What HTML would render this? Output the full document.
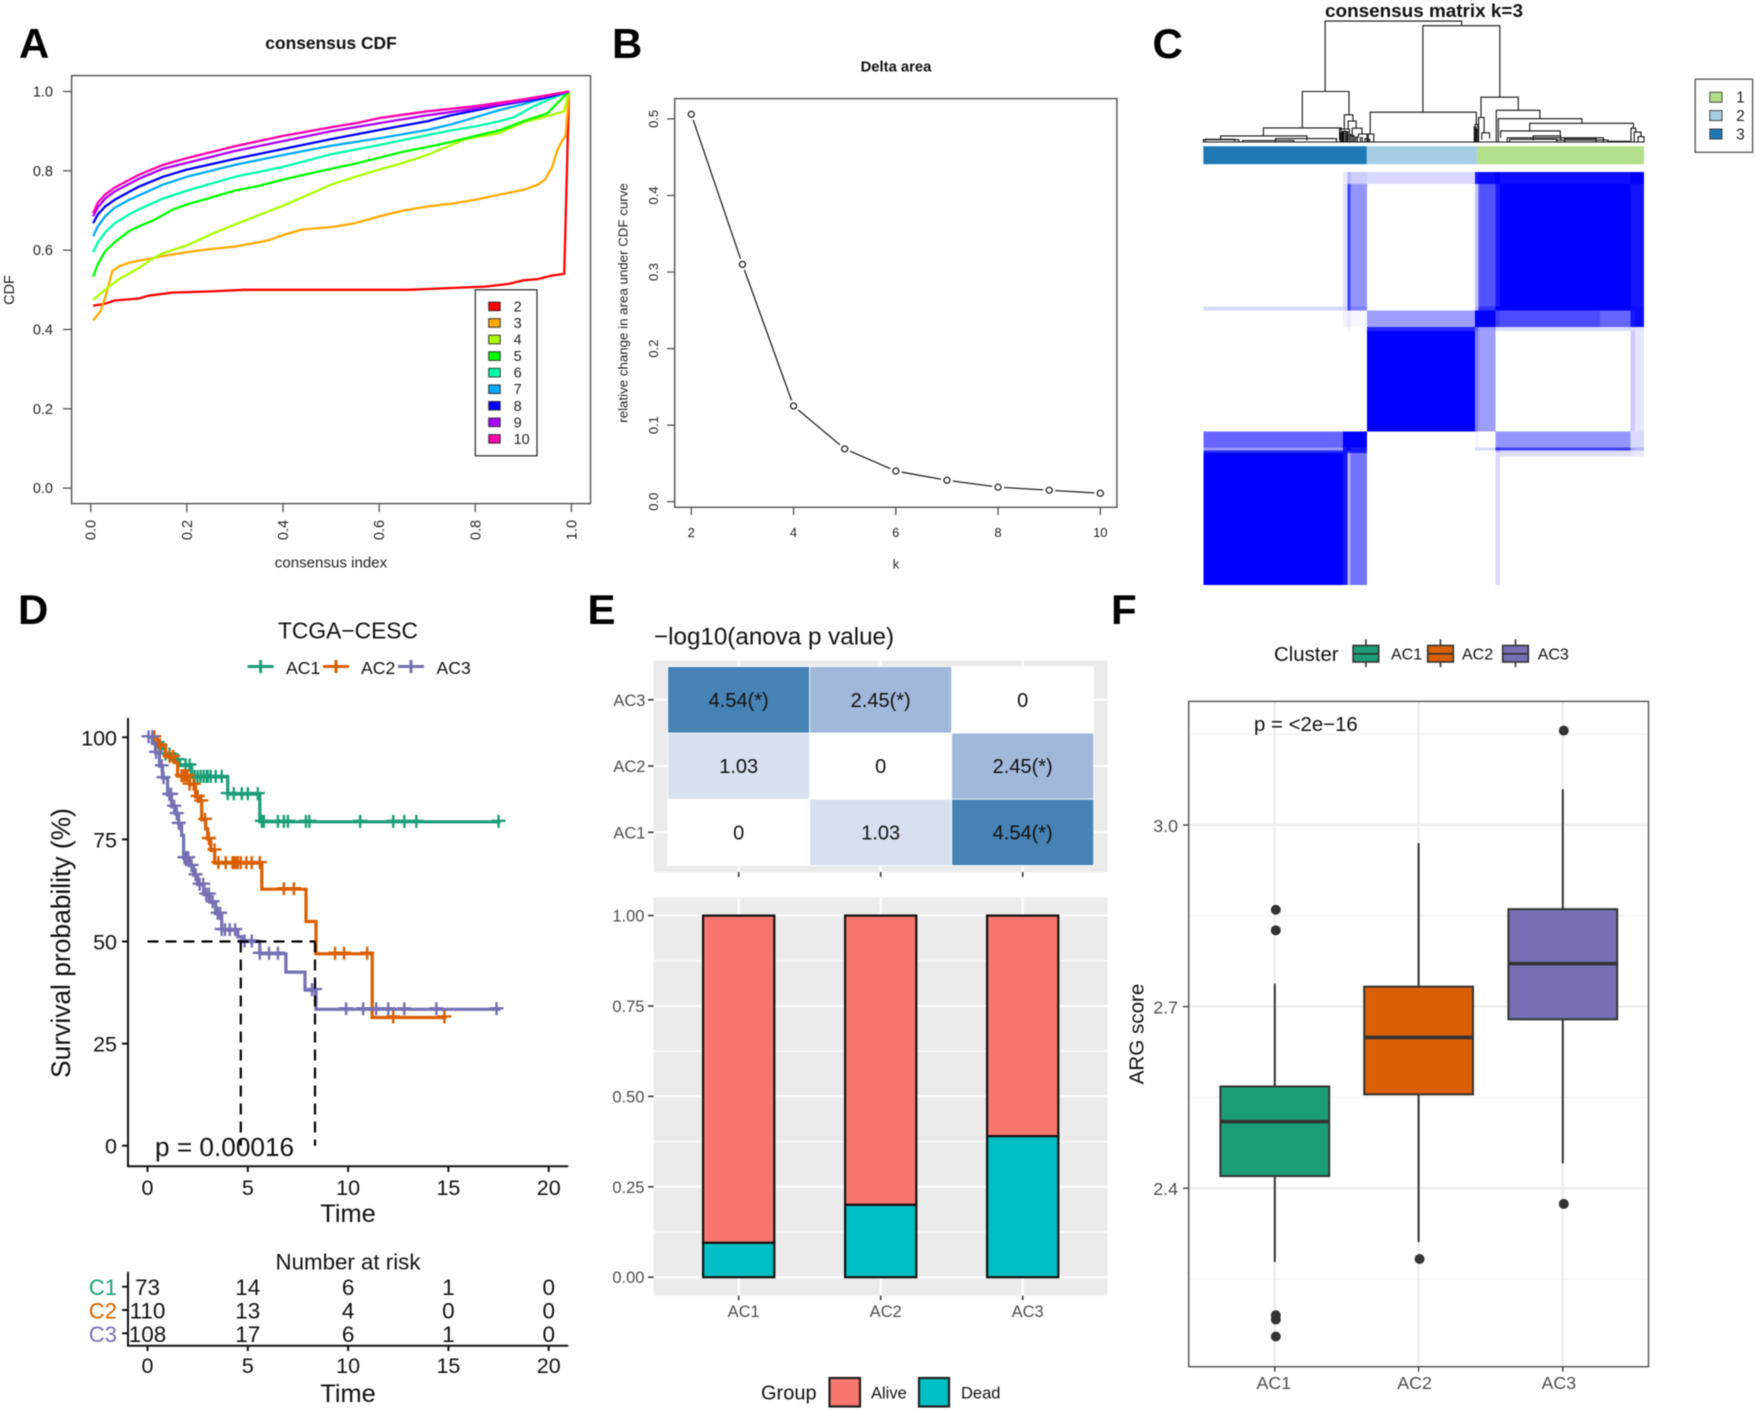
<!DOCTYPE html>
<html lang="en">
<head>
<meta charset="utf-8">
<title>Consensus clustering figure</title>
<style>
html,body{margin:0;padding:0;background:#fff;}
svg{display:block;font-family:"Liberation Sans",Arial,sans-serif;filter:blur(0.45px);}
text{dominant-baseline:central;}
.letter{font-size:42px;font-weight:bold;fill:#000;dominant-baseline:auto;}
</style>
</head>
<body>
<svg id="fig" xmlns="http://www.w3.org/2000/svg" width="1756" height="1411" viewBox="0 0 1756 1411">
<rect x="0" y="0" width="1756" height="1411" fill="#fff"/>
<text class="letter" x="19" y="58">A</text>
<text class="letter" x="612" y="58">B</text>
<text class="letter" x="1152.5" y="58">C</text>
<text class="letter" x="18" y="624">D</text>
<text class="letter" x="587.5" y="624">E</text>
<text class="letter" x="1111" y="624">F</text>

<g id="panelA">
<text x="331" y="42" font-size="17.4" font-weight="bold" text-anchor="middle" fill="#111">consensus CDF</text>
<text x="331" y="562" font-size="15.1" text-anchor="middle" fill="#222">consensus index</text>
<text transform="translate(9,290) rotate(-90)" font-size="14.5" text-anchor="middle" fill="#222">CDF</text>
</g>
<g id="panelB">
<text x="896" y="66.5" font-size="14.8" font-weight="bold" text-anchor="middle" fill="#111">Delta area</text>
<text x="896" y="563" font-size="13" text-anchor="middle" fill="#222">k</text>
<text transform="translate(622,303) rotate(-90)" font-size="13.3" text-anchor="middle" fill="#222">relative change in area under CDF curve</text>
</g>
<g id="panelC">
<text x="1424" y="10.5" font-size="18.9" font-weight="bold" text-anchor="middle" fill="#111">consensus matrix k=3</text>
</g>
<g id="panelD">
<text x="348" y="629.5" font-size="22.8" text-anchor="middle" fill="#111">TCGA−CESC</text>
<text transform="translate(60,943) rotate(-90)" font-size="26.4" text-anchor="middle" fill="#111">Survival probability (%)</text>
<text x="348" y="1213" font-size="25.4" text-anchor="middle" fill="#111">Time</text>
<text x="155" y="1146" font-size="26.2" fill="#111">p = 0.00016</text>
<text x="348" y="1261" font-size="22.3" text-anchor="middle" fill="#111">Number at risk</text>
<text x="348" y="1393" font-size="25.4" text-anchor="middle" fill="#111">Time</text>
</g>
<g id="panelE">
<text x="654" y="636" font-size="24.2" fill="#111">−log10(anova p value)</text>
<text x="761" y="1392.5" font-size="20" fill="#111">Group</text>
</g>
<g id="panelF">
<text x="1274" y="654" font-size="20.4" fill="#111">Cluster</text>
<text transform="translate(1136,1034) rotate(-90)" font-size="20.6" text-anchor="middle" fill="#111">ARG score</text>
</g>
</svg>

<script>
/* ---------- Panel A data ---------- */
const cdfTicks = [0, 0.2, 0.4, 0.6, 0.8, 1.0];
const cdfTickLabels = ["0.0", "0.2", "0.4", "0.6", "0.8", "1.0"];
const cdfK = ["2", "3", "4", "5", "6", "7", "8", "9", "10"];
const cdfColors = ["#ff0000", "#ffaa00", "#aaff00", "#00ff00", "#00ffaa", "#00aaff", "#0000ff", "#aa00ff", "#ff00aa"];
const cdfX2 = [.005,.03,.05,.1,.12,.17,.25,.32,.4,.5,.6,.66,.72,.8,.82,.87,.9,.93,.96,.985,.995];
const cdfY2 = [.46,.465,.473,.478,.485,.493,.496,.5,.5,.5,.5,.5,.503,.507,.508,.515,.524,.527,.536,.54,1];
const cdfX3 = [.005,.02,.03,.045,.06,.08,.1,.15,.2,.25,.3,.35,.37,.4,.44,.5,.55,.6,.65,.7,.75,.8,.85,.9,.93,.945,.96,.97,.98,.988,.995];
const cdfY3 = [.423,.445,.48,.547,.56,.568,.573,.585,.595,.603,.609,.62,.625,.638,.652,.658,.668,.685,.7,.71,.717,.727,.74,.752,.765,.778,.81,.85,.875,.888,1];
const cdfX4 = [.005,.02,.04,.06,.1,.13,.15,.2,.25,.3,.4,.5,.55,.6,.65,.7,.75,.78,.85,.9,.95,.985,.995];
const cdfY4 = [.475,.49,.51,.528,.555,.58,.592,.612,.64,.665,.712,.765,.785,.803,.82,.84,.865,.88,.895,.922,.938,.95,1];
const cdfX5 = [.005,.015,.03,.05,.08,.1,.13,.17,.2,.3,.35,.4,.5,.55,.6,.65,.7,.75,.8,.85,.9,.95,.97,.995];
const cdfY5 = [.533,.565,.597,.62,.648,.66,.675,.702,.715,.75,.762,.778,.805,.818,.833,.848,.86,.873,.888,.902,.925,.945,.97,1];
const cdfX6 = [.005,.015,.03,.05,.08,.1,.15,.2,.3,.4,.5,.6,.7,.75,.8,.85,.88,.92,.95,.995];
const cdfY6 = [.595,.62,.645,.668,.69,.703,.73,.75,.785,.81,.842,.865,.89,.902,.912,.925,.935,.962,.978,1];
const cdfX7 = [.005,.015,.03,.05,.08,.1,.15,.2,.3,.4,.5,.6,.7,.75,.8,.85,.9,.95,.995];
const cdfY7 = [.635,.66,.685,.707,.727,.738,.765,.785,.815,.84,.863,.882,.903,.917,.935,.953,.968,.985,1];
const cdfX8 = [.005,.015,.03,.05,.08,.1,.15,.2,.3,.4,.5,.6,.7,.75,.8,.85,.9,.95,.995];
const cdfY8 = [.668,.69,.71,.727,.747,.76,.785,.803,.83,.855,.88,.903,.925,.94,.952,.965,.975,.985,1];
const cdfX9 = [.005,.015,.03,.05,.08,.1,.15,.2,.3,.4,.5,.6,.7,.8,.9,.995];
const cdfY9 = [.685,.708,.73,.748,.767,.78,.805,.82,.85,.875,.9,.92,.94,.957,.977,1];
const cdfX10 = [.005,.015,.03,.05,.08,.1,.15,.2,.3,.4,.5,.56,.6,.7,.8,.9,.995];
const cdfY10 = [.693,.72,.74,.758,.777,.79,.815,.832,.862,.888,.91,.922,.933,.95,.963,.98,1];

/* ---------- Panel B data ---------- */
const deltaK = [2, 3, 4, 5, 6, 7, 8, 9, 10];
const deltaValues = [.506, .31, .125, .069, .04, .028, .019, .015, .011];
const deltaXTicks = [2, 4, 6, 8, 10];
const deltaYTicks = [0, .1, .2, .3, .4, .5];
const deltaYLabels = ["0.0", "0.1", "0.2", "0.3", "0.4", "0.5"];

/* ---------- Panel C data ---------- */
const clusterOrder = ["3", "2", "1"];
const clusterColors = ["#1f78b4", "#a6cee3", "#b2df8a"];
const clusterBreaks = [0, 108, 181, 291];
const matrixColEdges = [0, 92.4, 95.2, 97.3, 108.2, 179.4, 181.7, 193, 196, 262, 282.2, 285, 291];
const matrixRowEdges = [0, 90.3, 92.7, 94.5, 96.9, 107.9, 178.8, 181.6, 193.3, 196, 282.4, 291];
const matrixRow0 = [1, .9, .3, .55, 0, 0, 0, .15, 0, 0, 0, 0];
const matrixRow1 = [1, .9, .3, .55, 0, 0, 0, .15, .12, .12, .1, .08];
const matrixRow2 = [.85, .95, .8, .9, 0, 0, 0, .25, .15, .15, .12, .1];
const matrixRow3 = [.4, .9, 1, .9, 0, .15, .15, .8, .75, .75, .35, .3];
const matrixRow4 = [.6, 1, 1, 1, 0, .05, 0, .42, .42, .42, .15, .15];
const matrixRow5 = [0, 0, 0, 0, 1, .5, .38, 0, 0, 0, .2, .1];
const matrixRow6 = [0, 0, .05, 0, .85, .6, .4, .15, .15, .15, .15, .12];
const matrixRow7 = [0, .05, .1, .03, .38, 1, 1, .75, .7, .6, .9, .95];
const matrixRow8 = [.15, .2, .75, .5, 0, .3, .8, 1, 1, 1, .95, .95];
const matrixRow9 = [0, .12, .75, .42, 0, .25, .68, .9, 1, 1, .92, .92];
const matrixRow10 = [0, .08, .3, .2, .15, .9, .95, 1, .95, .95, 1, 1];
/* merges: left leaf, right leaf, height, left child height, right child height */
const dendroMerges = [
 [310,658,317,133,305],[559,755,305,79,118],[252,371,133,38,72],[153,351,38,17,10],[44,264,17,7,5],
 [0,90,7,2,2],[5,80,8,3,3],[100,230,5,1,1],[184,339,10,2,2],[359,381,72,35,56],[369,389,56,35,37],
 [379,404,37,15,22],[395,420,22,12,10],[347,372,35,5,5],[349,352,25,0,0],[353,356,28,0,0],[358,362,30,0,0],
 [365,368,28,0,0],[372,376,20,0,0],[380,384,18,0,0],[388,392,14,0,0],[400,405,12,0,0],[412,418,10,0,0],[420,424,8,0,0],
 [425,695,79,22,47],[417,434,22,2,2],[692,699,47,3,3],[690,694,40,0,0],[696,700,35,0,0],
 [707,802,118,65,84],[701,715,65,2,25],[709,729,25,7,10],[746,857,84,2,62],[751,964,62,2,50],
 [831,1095,50,30,37],[757,909,30,12,17],[774,1019,12,2,2],[840,910,17,5,5],[1089,1101,37,2,27],
 [1097,1114,27,2,15],[1107,1122,15,0,0],[780,900,8,1,1],[900,1030,6,1,1],[920,1000,10,2,2],[1030,1085,3,0,0],[0,1122,1,0,0]
];
const matrixLegendLabels = ["1", "2", "3"];
const matrixLegendColors = ["#b2df8a", "#a6cee3", "#1f78b4"];

/* ---------- Panel D data ---------- */
const kmGroups = ["AC1", "AC2", "AC3"];
const kmColors = ["#1b9e77", "#d95f02", "#7570b3"];
const kmTimeAC1 = [0,.3,.6,.9,1.2,1.6,2.2,4,5.6];
const kmSurvAC1 = [100,98.6,97.2,95.8,94.4,93.1,90.3,86.1,79.3];
const kmEndAC1 = 17.6;
const kmCensorAC1 = [.5,.9,1.1,1.5,1.9,2.1,2.35,2.5,2.65,2.8,2.95,3.0,3.15,3.4,3.7,4.0,4.3,4.7,5.0,5.5,5.7,5.8,6.5,6.8,7.0,7.9,8.07,10.6,12.25,12.8,13.4,17.5];
const kmTimeAC2 = [0,.5,.9,1.35,1.5,2.1,2.4,2.6,2.7,2.9,3,3.15,3.35,5.7,7.9,8.4,11.2];
const kmSurvAC2 = [100,98,95.2,93.8,90.5,88.4,85.4,84.3,79.8,77.6,75.1,72.3,69.2,62.8,54.9,47,31.4];
const kmEndAC2 = 14.9;
const kmCensorAC2 = [.34,.62,1.1,1.28,1.7,1.8,1.9,2,2.1,2.3,2.5,2.68,2.87,3.06,3.34,3.53,3.9,4.24,4.32,4.43,4.5,4.65,4.93,5.2,5.6,6.8,7.3,9.35,9.8,10.95,12.25,14.8];
const kmTimeAC3 = [0,.25,.4,.6,.75,1,1.2,1.4,1.55,1.7,1.8,2.1,2.3,2.5,2.8,3.1,3.4,3.7,4.5,4.7,5.6,6.9,7.85,8.4];
const kmSurvAC3 = [100,98.5,96.2,92.9,90,85.9,83,81.2,78.8,76,70.4,68.5,66.2,63.9,61.5,59.6,56.8,52.8,51.2,50,47,42.5,38.1,33.4];
const kmEndAC3 = 17.6;
const kmCensorAC3 = [.05,.24,.43,.71,.8,1.09,1.18,1.33,1.46,1.56,1.84,1.93,2.03,2.2,2.4,2.6,2.78,2.93,3.06,3.25,3.5,3.62,3.7,3.86,4.1,4.37,4.84,5.2,5.6,6.06,6.5,8.2,8.35,9.9,10.75,11.4,12,12.8,14.4,17.4];
const kmXTicks = [0, 5, 10, 15, 20];
const kmYTicks = [0, 25, 50, 75, 100];
const medianTimes = [4.65, 8.35];
const riskRows = ["C1", "C2", "C3"];
const riskC1 = [73, 14, 6, 1, 0];
const riskC2 = [110, 13, 4, 0, 0];
const riskC3 = [108, 17, 6, 1, 0];

/* ---------- Panel E data ---------- */
const anovaCats = ["AC1", "AC2", "AC3"];
const anovaAC1 = [0, 1.03, 4.54];
const anovaAC2 = [1.03, 0, 2.45];
const anovaAC3 = [4.54, 2.45, 0];
const anovaLabelsAC1 = ["0", "1.03", "4.54(*)"];
const anovaLabelsAC2 = ["1.03", "0", "2.45(*)"];
const anovaLabelsAC3 = ["4.54(*)", "2.45(*)", "0"];
const deadShare = [.095, .2, .39];
const shareTicks = [0, .25, .5, .75, 1];
const shareLabels = ["0.00", "0.25", "0.50", "0.75", "1.00"];
const shareMinor = [.125, .375, .625, .875];

/* ---------- Panel F data ---------- */
const boxCats = ["AC1", "AC2", "AC3"];
const boxFill = ["#1b9e77", "#d95f02", "#7570b3"];
const boxQ1 = [2.42, 2.555, 2.679];
const boxMedian = [2.51, 2.649, 2.771];
const boxQ3 = [2.568, 2.733, 2.861];
const boxWhiskerLow = [2.278, 2.311, 2.441];
const boxWhiskerHigh = [2.738, 2.97, 3.059];
const outliersAC1 = [2.86, 2.826, 2.19, 2.183, 2.155];
const outliersAC2 = [2.283];
const outliersAC3 = [3.156, 2.374];
const boxYTicks = [2.4, 2.7, 3.0];
const boxYLabels = ["2.4", "2.7", "3.0"];
const boxYMinor = [2.25, 2.55, 2.85, 3.15];

/* ---------- helpers ---------- */
const NS = "http://www.w3.org/2000/svg";
function mk(parent, tag, attrs) {
  const e = document.createElementNS(NS, tag);
  for (const k in attrs) e.setAttribute(k, attrs[k]);
  parent.appendChild(e);
  return e;
}
function tx(parent, str, attrs) {
  const e = mk(parent, "text", attrs);
  e.textContent = str;
  return e;
}
const A = document.getElementById("panelA");
const B = document.getElementById("panelB");
const C = document.getElementById("panelC");
const D = document.getElementById("panelD");
const E = document.getElementById("panelE");
const F = document.getElementById("panelF");

/* ---------- Panel A ---------- */
const ax = v => 90.7 + v * 480.7;
const ay = v => 488.1 - v * 396.6;
const aFrame = mk(A, "rect", {x:71.6, y:75.6, width:518.9, height:428, fill:"none", stroke:"#444", "stroke-width":1.3});


cdfTicks.forEach((t, i) => {
  const xt = mk(A, "line", {x1:ax(t), x2:ax(t), y1:503.6, y2:512, stroke:"#444", "stroke-width":1.2});
  
  
  const yt = mk(A, "line", {x1:63, x2:71.6, y1:ay(t), y2:ay(t), stroke:"#444", "stroke-width":1.2});
  
  
  const xl = tx(A, cdfTickLabels[i], {transform:`translate(${ax(t)},530) rotate(-90)`, "font-size":14.5, "text-anchor":"middle", fill:"#222"});
  
  
  const yl = tx(A, cdfTickLabels[i], {x:53, y:ay(t), "font-size":14.5, "text-anchor":"end", fill:"#222"});
  
  
});
const cdfXs = [cdfX2, cdfX3, cdfX4, cdfX5, cdfX6, cdfX7, cdfX8, cdfX9, cdfX10];
const cdfYs = [cdfY2, cdfY3, cdfY4, cdfY5, cdfY6, cdfY7, cdfY8, cdfY9, cdfY10];
cdfK.forEach((k, i) => {
  const pts = cdfXs[i].map((x, j) => ax(x).toFixed(1) + "," + ay(cdfYs[i][j]).toFixed(1)).join(" ");
  const pl = mk(A, "polyline", {points:pts, fill:"none", stroke:cdfColors[i], "stroke-width":2.3, "stroke-linejoin":"round"});
  
  
});
const aLegend = mk(A, "rect", {x:475.3, y:289.8, width:61.7, height:166, fill:"#fff", stroke:"#222", "stroke-width":1.2});


cdfK.forEach((k, i) => {
  const yy = 306.4 + i * 16.56;
  const s = mk(A, "rect", {x:488.7, y:yy - 4.3, width:11.5, height:8.6, fill:cdfColors[i], stroke:"#333", "stroke-width":1});
  
  
  const l = tx(A, k, {x:513.6, y:yy, "font-size":14.5, fill:"#222"});
  
  
});

/* ---------- Panel B ---------- */
const bx = k => 691.3 + (k - 2) * 51.125;
const by = v => 501.7 - v * 765.6;
const bFrame = mk(B, "rect", {x:674.7, y:98.6, width:442.2, height:408.7, fill:"none", stroke:"#444", "stroke-width":1.3});


deltaXTicks.forEach(k => {
  const t = mk(B, "line", {x1:bx(k), x2:bx(k), y1:507.3, y2:515, stroke:"#444", "stroke-width":1.2});
  
  
  const l = tx(B, String(k), {x:bx(k), y:531.5, "font-size":13, "text-anchor":"middle", fill:"#222"});
  
  
});
deltaYTicks.forEach((v, i) => {
  const t = mk(B, "line", {x1:667, x2:674.7, y1:by(v), y2:by(v), stroke:"#444", "stroke-width":1.2});
  
  
  const l = tx(B, deltaYLabels[i], {transform:`translate(652.5,${by(v)}) rotate(-90)`, "font-size":13, "text-anchor":"middle", fill:"#222"});
  
  
});
const deltaLine = mk(B, "polyline", {points:deltaK.map((k, i) => bx(k) + "," + by(deltaValues[i])).join(" "), fill:"none", stroke:"#222", "stroke-width":1.3});


deltaK.forEach((k, i) => {
  const halo = mk(B, "circle", {cx:bx(k), cy:by(deltaValues[i]), r:6, fill:"#fff"});
  
  
  const c = mk(B, "circle", {cx:bx(k), cy:by(deltaValues[i]), r:3, fill:"#fff", stroke:"#222", "stroke-width":1.3});
  
  
});

/* ---------- Panel C ---------- */
const mLeft = 1203.3, mWidth = 440.7, mTop = 171.8, mBottom = 584.8, nSamples = 291;
const mx = s => mLeft + s / nSamples * mWidth;
const my = s => mBottom - s / nSamples * (mBottom - mTop);
const matrixRows = [matrixRow0, matrixRow1, matrixRow2, matrixRow3, matrixRow4, matrixRow5, matrixRow6, matrixRow7, matrixRow8, matrixRow9, matrixRow10];
matrixRows.forEach((row, r) => {
  row.forEach((v, c) => {
    if (v <= 0) return;
    const cell = mk(C, "rect", {x:mx(matrixColEdges[c]), y:my(matrixRowEdges[r + 1]),
      width:mx(matrixColEdges[c + 1]) - mx(matrixColEdges[c]),
      height:my(matrixRowEdges[r]) - my(matrixRowEdges[r + 1]),
      fill:"#0000ff", "fill-opacity":v, "shape-rendering":"crispEdges"});
    
    
  });
});
clusterOrder.forEach((c, i) => {
  const seg = mk(C, "rect", {x:mx(clusterBreaks[i]), y:146.2, width:mx(clusterBreaks[i + 1]) - mx(clusterBreaks[i]), height:18, fill:clusterColors[i]});
  
  
});
const dx = u => mLeft + u / 1122 * mWidth;
const dy = h => 142.4 - h / 317 * 121.3;
dendroMerges.forEach(m => {
  const d = `M${dx(m[0]).toFixed(1)} ${dy(m[3]).toFixed(1)}V${dy(m[2]).toFixed(1)}H${dx(m[1]).toFixed(1)}V${dy(m[4]).toFixed(1)}`;
  const p = mk(C, "path", {d:d, fill:"none", stroke:"#111", "stroke-width":1.1});
  
  
});
const cLegend = mk(C, "rect", {x:1695.2, y:79.2, width:57.4, height:73.1, fill:"#fff", stroke:"#444", "stroke-width":1.2});


matrixLegendLabels.forEach((l, i) => {
  const yy = 97.2 + i * 18.4;
  const s = mk(C, "rect", {x:1709.8, y:yy - 5, width:12.2, height:10, fill:matrixLegendColors[i], stroke:"#444", "stroke-width":1});
  
  
  const t = tx(C, l, {x:1740.4, y:yy, "font-size":15.5, "text-anchor":"middle", fill:"#222"});
  
  
});

/* ---------- Panel D ---------- */
const kx = t => 147.5 + t * 20.06;
const ky = s => 1145.7 - s * 4.084;
const kmTimes = [kmTimeAC1, kmTimeAC2, kmTimeAC3];
const kmSurvs = [kmSurvAC1, kmSurvAC2, kmSurvAC3];
const kmEnds = [kmEndAC1, kmEndAC2, kmEndAC3];
const kmCensors = [kmCensorAC1, kmCensorAC2, kmCensorAC3];
const dAxes = mk(D, "path", {d:"M128 718V1166.3H568.3", fill:"none", stroke:"#111", "stroke-width":2});


kmXTicks.forEach(t => {
  const tk = mk(D, "line", {x1:kx(t), x2:kx(t), y1:1166.3, y2:1172, stroke:"#111", "stroke-width":2});
  
  
  const l = tx(D, String(t), {x:kx(t), y:1187, "font-size":21.5, "text-anchor":"middle", fill:"#111"});
  
  
});
kmYTicks.forEach(s => {
  const tk = mk(D, "line", {x1:122, x2:128, y1:ky(s), y2:ky(s), stroke:"#111", "stroke-width":2});
  
  
  const l = tx(D, String(s), {x:117, y:ky(s), "font-size":21.5, "text-anchor":"end", fill:"#111"});
  
  
});
function survAt(times, survs, t) {
  let s = survs[0];
  for (let i = 0; i < times.length; i++) if (times[i] <= t) s = survs[i];
  return s;
}
kmGroups.forEach((g, i) => {
  let d = `M${kx(kmTimes[i][0]).toFixed(1)} ${ky(kmSurvs[i][0]).toFixed(1)}`;
  for (let j = 1; j < kmTimes[i].length; j++) {
    d += `H${kx(kmTimes[i][j]).toFixed(1)}V${ky(kmSurvs[i][j]).toFixed(1)}`;
  }
  d += `H${kx(kmEnds[i]).toFixed(1)}`;
  const p = mk(D, "path", {d:d, fill:"none", stroke:kmColors[i], "stroke-width":3.2});
  
  
  kmCensors[i].forEach(t => {
    const cx = kx(t), cy = ky(survAt(kmTimes[i], kmSurvs[i], t));
    const m = mk(D, "path", {d:`M${cx - 7} ${cy - 1}H${cx + 7}M${cx} ${cy - 7}V${cy + 6}`, fill:"none", stroke:kmColors[i], "stroke-width":2.4});
    
    
  });
  const lx = [247.6, 323, 398][i];
  const key = mk(D, "path", {d:`M${lx} 666.5H${lx + 26}M${lx + 13} 660V673`, fill:"none", stroke:kmColors[i], "stroke-width":3});
  
  
  const lt = tx(D, g, {x:[286, 361, 436.5][i], y:667, "font-size":17.6, fill:"#111"});
  
  
});
const medianH = mk(D, "line", {x1:kx(0), x2:kx(medianTimes[1]), y1:ky(50), y2:ky(50), stroke:"#000", "stroke-width":2.2, "stroke-dasharray":"11 7"});


medianTimes.forEach(t => {
  const v = mk(D, "line", {x1:kx(t), x2:kx(t), y1:ky(50), y2:ky(0), stroke:"#000", "stroke-width":2.2, "stroke-dasharray":"11 7"});
  
  
});
const riskAxes = mk(D, "path", {d:"M128 1271.7V1345.7H568.3", fill:"none", stroke:"#111", "stroke-width":2});


const riskValues = [riskC1, riskC2, riskC3];
const riskY = [1286.7, 1310, 1333.3];
riskRows.forEach((r, i) => {
  const tk = mk(D, "line", {x1:122, x2:128, y1:riskY[i], y2:riskY[i], stroke:"#111", "stroke-width":2});
  
  
  const l = tx(D, r, {x:117, y:riskY[i], "font-size":22, "text-anchor":"end", fill:kmColors[i]});
  
  
  kmXTicks.forEach((t, j) => {
    const c = tx(D, String(riskValues[i][j]), {x:kx(t), y:riskY[i], "font-size":22.5, "text-anchor":"middle", fill:"#111"});
    
    
  });
});
kmXTicks.forEach(t => {
  const tk = mk(D, "line", {x1:kx(t), x2:kx(t), y1:1345.7, y2:1351, stroke:"#111", "stroke-width":2});
  
  
  const l = tx(D, String(t), {x:kx(t), y:1365, "font-size":21.5, "text-anchor":"middle", fill:"#111"});
  
  
});

/* ---------- Panel E ---------- */
const eCols = [738.7, 880.7, 1022.7];
const eColHalf = 71;
const eRows = [832.3, 766, 699.8];
const eRowHalf = 33.2;
const eValues = [anovaAC1, anovaAC2, anovaAC3];
const eLabels = [anovaLabelsAC1, anovaLabelsAC2, anovaLabelsAC3];
const tileColor = v => {
  const f = v / 4.54;
  const r = f - 0.1 * f * (1 - f), g = f + 0.11 * f * (1 - f), b = f - 0.13 * f * (1 - f);
  return `rgb(${Math.round(255 - 185 * r)},${Math.round(255 - 125 * g)},${Math.round(255 - 75 * b)})`;
};
const eBg1 = mk(E, "rect", {x:653.6, y:660.5, width:454, height:211.5, fill:"#ebebeb"});


anovaCats.forEach((c, i) => {
  const gv = mk(E, "line", {x1:eCols[i], x2:eCols[i], y1:660.5, y2:872, stroke:"#fff", "stroke-width":2});
  
  
  const gh = mk(E, "line", {x1:653.6, x2:1107.6, y1:eRows[i], y2:eRows[i], stroke:"#fff", "stroke-width":2});
  
  
  const yt = mk(E, "line", {x1:648, x2:653.6, y1:eRows[i], y2:eRows[i], stroke:"#333", "stroke-width":1.6});
  
  
  const yl = tx(E, c, {x:645.5, y:eRows[i], "font-size":16.5, "text-anchor":"end", fill:"#4d4d4d"});
  
  
  const xt = mk(E, "line", {x1:eCols[i], x2:eCols[i], y1:872, y2:877, stroke:"#333", "stroke-width":1.6});
  
  
});
eValues.forEach((row, r) => {
  row.forEach((v, c) => {
    const tile = mk(E, "rect", {x:eCols[c] - eColHalf, y:eRows[r] - eRowHalf, width:eColHalf * 2, height:eRowHalf * 2, fill:tileColor(v), stroke:"#fff", "stroke-width":0.8});
    
    
    const t = tx(E, eLabels[r][c], {x:eCols[c], y:eRows[r], "font-size":20, "text-anchor":"middle", fill:"#111"});
    
    
  });
});
const ey = v => 1277.2 - v * 361.6;
const eBg2 = mk(E, "rect", {x:653.6, y:897.5, width:454, height:398.3, fill:"#ebebeb"});


shareMinor.forEach(v => {
  const g = mk(E, "line", {x1:653.6, x2:1107.6, y1:ey(v), y2:ey(v), stroke:"#fff", "stroke-width":1});
  
  
});
shareTicks.forEach((v, i) => {
  const g = mk(E, "line", {x1:653.6, x2:1107.6, y1:ey(v), y2:ey(v), stroke:"#fff", "stroke-width":2});
  
  
  const t = mk(E, "line", {x1:648, x2:653.6, y1:ey(v), y2:ey(v), stroke:"#333", "stroke-width":1.6});
  
  
  const l = tx(E, shareLabels[i], {x:644.5, y:ey(v), "font-size":16.5, "text-anchor":"end", fill:"#4d4d4d"});
  
  
});
anovaCats.forEach((c, i) => {
  const g = mk(E, "line", {x1:eCols[i], x2:eCols[i], y1:897.5, y2:1295.8, stroke:"#fff", "stroke-width":2});
  
  
  const alive = mk(E, "rect", {x:eCols[i] - 35.6, y:ey(1), width:71.2, height:ey(deadShare[i]) - ey(1), fill:"#f8766d", stroke:"#111", "stroke-width":2.2});
  
  
  const dead = mk(E, "rect", {x:eCols[i] - 35.6, y:ey(deadShare[i]), width:71.2, height:ey(0) - ey(deadShare[i]), fill:"#00bfc4", stroke:"#111", "stroke-width":2.2});
  
  
  const t = mk(E, "line", {x1:eCols[i], x2:eCols[i], y1:1295.8, y2:1300, stroke:"#333", "stroke-width":1.6});
  
  
  const l = tx(E, c, {x:eCols[i] + 5, y:1310.8, "font-size":16.5, "text-anchor":"middle", fill:"#4d4d4d"});
  
  
});
const legendAlive = mk(E, "rect", {x:829.5, y:1378, width:30.5, height:28.5, fill:"#f8766d", stroke:"#222", "stroke-width":2.2});


const legendAliveText = tx(E, "Alive", {x:871, y:1392.5, "font-size":16.5, fill:"#111"});


const legendDead = mk(E, "rect", {x:919, y:1378, width:30, height:28.5, fill:"#00bfc4", stroke:"#222", "stroke-width":2.2});


const legendDeadText = tx(E, "Dead", {x:961, y:1392.5, "font-size":16.5, fill:"#111"});



/* ---------- Panel F ---------- */
const fx = [1274.8, 1418.6, 1562.8];
const fy = v => 825 + (3 - v) * 605.3;
const fOutliers = [outliersAC1, outliersAC2, outliersAC3];
const fL = 1188.7, fR = 1648.5, fT = 701.4, fB = 1366.7;
boxYMinor.forEach(v => {
  const g = mk(F, "line", {x1:fL, x2:fR, y1:fy(v), y2:fy(v), stroke:"#eeeeee", "stroke-width":1});
  
  
});
boxYTicks.forEach((v, i) => {
  const g = mk(F, "line", {x1:fL, x2:fR, y1:fy(v), y2:fy(v), stroke:"#ebebeb", "stroke-width":2});
  
  
  const t = mk(F, "line", {x1:1183, x2:fL, y1:fy(v), y2:fy(v), stroke:"#333", "stroke-width":1.3});
  
  
  const l = tx(F, boxYLabels[i], {x:1178, y:fy(v), "font-size":17.8, "text-anchor":"end", fill:"#4d4d4d"});
  
  
});
boxCats.forEach((c, i) => {
  const g = mk(F, "line", {x1:fx[i], x2:fx[i], y1:fT, y2:fB, stroke:"#ebebeb", "stroke-width":2});
  
  
});
const fFrame = mk(F, "rect", {x:fL, y:fT, width:fR - fL, height:fB - fT, fill:"none", stroke:"#444", "stroke-width":1.3});


const fPval = tx(F, "p = <2e−16", {x:1254, y:724, "font-size":20.4, fill:"#111"});


boxCats.forEach((c, i) => {
  const w = mk(F, "line", {x1:fx[i], x2:fx[i], y1:fy(boxWhiskerHigh[i]), y2:fy(boxWhiskerLow[i]), stroke:"#333", "stroke-width":2});
  
  
  const b = mk(F, "rect", {x:fx[i] - 54.4, y:fy(boxQ3[i]), width:108.8, height:fy(boxQ1[i]) - fy(boxQ3[i]), fill:boxFill[i], stroke:"#333", "stroke-width":2});
  
  
  const m = mk(F, "line", {x1:fx[i] - 54.4, x2:fx[i] + 54.4, y1:fy(boxMedian[i]), y2:fy(boxMedian[i]), stroke:"#333", "stroke-width":3.6});
  
  
  fOutliers[i].forEach(v => {
    const o = mk(F, "circle", {cx:fx[i] + 1, cy:fy(v), r:5, fill:"#333"});
    
    
  });
  const t = mk(F, "line", {x1:fx[i], x2:fx[i], y1:fB, y2:fB + 5, stroke:"#333", "stroke-width":1.3});
  
  
  const l = tx(F, c, {x:fx[i] + [-1, -4, -4][i], y:1382, "font-size":17.8, "text-anchor":"middle", fill:"#4d4d4d"});
  
  
  const kc = [1365.9, 1440.5, 1515.5][i];
  const kw = mk(F, "line", {x1:kc, x2:kc, y1:639.3, y2:667.2, stroke:"#333", "stroke-width":1.6});
  
  
  const kb = mk(F, "rect", {x:kc - 12.8, y:645.5, width:25.6, height:16.5, fill:boxFill[i], stroke:"#333", "stroke-width":1.6});
  
  
  const km = mk(F, "line", {x1:kc - 12.8, x2:kc + 12.8, y1:653.8, y2:653.8, stroke:"#333", "stroke-width":1.6});
  
  
  const kt = tx(F, c, {x:[1391, 1462, 1537.7][i], y:654, "font-size":16, fill:"#111"});
  
  
});

/* nudge all plot text onto the reference baselines */
document.querySelectorAll('text:not(.letter)').forEach(t => t.setAttribute('dy', '1'));
</script>
</body>
</html>
